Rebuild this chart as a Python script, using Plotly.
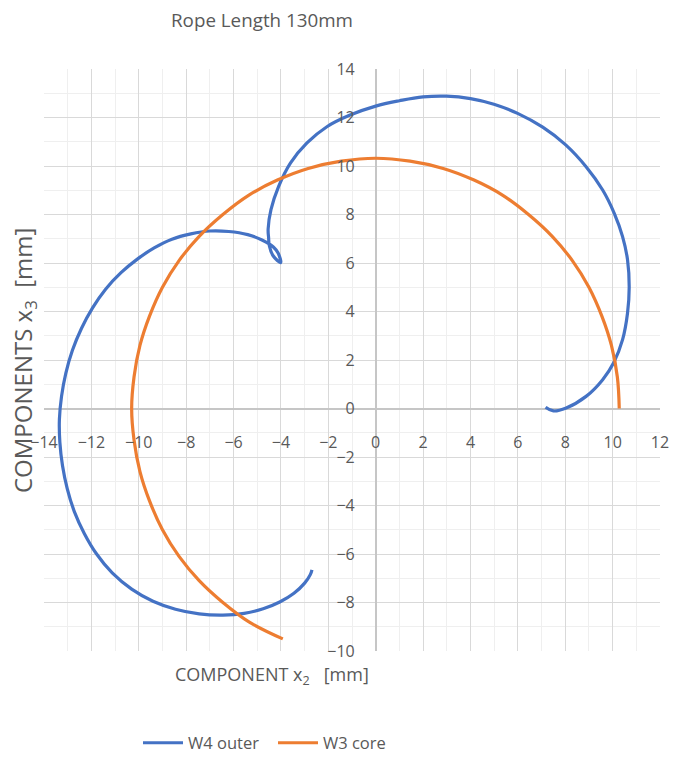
import plotly.graph_objects as go

# W4 outer wire: cross-section trace (x2, x3) in mm
w4_x2 = [7.17, 7.5, 8.04, 8.88, 9.58, 10.05, 10.42, 10.63, 10.7, 10.63, 10.42, 10.07,
         9.58, 8.88, 8.02, 7.05, 5.99, 4.99, 4.0, 2.99, 2.0, 1.0, 0.0, -1.08, -2.06,
         -2.9, -3.6, -4.1, -4.42, -4.54, -4.52, -4.49, -4.33, -4.01, -4.12, -4.32,
         -4.8, -5.4, -6.2, -7.0, -7.8, -8.6, -9.35, -10.06, -10.75, -11.4, -11.95,
         -12.42, -12.8, -13.08, -13.26, -13.35, -13.33, -13.22, -13.02, -12.72, -12.3,
         -11.78, -11.12, -10.3, -9.4, -8.45, -7.45, -6.45, -5.55, -4.75, -4.05, -3.45,
         -3.0, -2.76, -2.69]
w4_x3 = [0.05, -0.1, 0.02, 0.5, 1.19, 1.9, 2.84, 3.94, 5.0, 6.13, 7.09, 8.05,
         9.01, 9.97, 10.87, 11.6, 12.17, 12.55, 12.78, 12.88, 12.85, 12.69, 12.47, 12.1, 11.62,
         10.95, 10.12, 9.15, 8.2, 7.4, 7.05, 6.72, 6.3, 6.02, 6.41, 6.66,
         6.95, 7.17, 7.3, 7.32, 7.2, 6.98, 6.62, 6.16, 5.6, 4.92, 4.15,
         3.3, 2.4, 1.45, 0.5, -0.45, -1.4, -2.35, -3.3, -4.25, -5.15,
         -6.0, -6.78, -7.45, -7.95, -8.28, -8.47, -8.52, -8.45, -8.26, -7.98, -7.62,
         -7.2, -6.85, -6.65]

# W3 core wire
w3_x2 = [10.28, 10.2, 9.95, 9.55, 9.0, 8.3, 7.45, 6.45, 5.35, 4.15, 2.85, 1.45, 0.0,
         -1.45, -2.85, -4.15, -5.35, -6.45, -7.45, -8.3, -9.0, -9.55, -9.95, -10.2,
         -10.3, -10.2, -9.95, -9.55, -9.0, -8.3, -7.45, -6.45, -5.35, -3.92]
w3_x3 = [0.0, 1.3, 2.6, 3.8, 5.0, 6.1, 7.1, 8.0, 8.8, 9.42, 9.9, 10.2, 10.32,
         10.2, 9.9, 9.42, 8.8, 8.0, 7.1, 6.1, 5.0, 3.8, 2.6, 1.3,
         0.0, -1.3, -2.6, -3.8, -5.0, -6.1, -7.1, -8.0, -8.8, -9.5]

x_ticks = list(range(-14, 13, 2))
y_ticks = list(range(-10, 15, 2))

TXT = "#595959"
FONT = "Open Sans, sans-serif"

fig = go.Figure()
fig.add_trace(go.Scatter(x=w4_x2, y=w4_x3, mode="lines", name="W4 outer",
                         line=dict(color="#4472C4", width=3.2, shape="spline", smoothing=1.1)))
fig.add_trace(go.Scatter(x=w3_x2, y=w3_x3, mode="lines", name="W3 core",
                         line=dict(color="#ED7D31", width=3.2, shape="spline", smoothing=1.1)))

W, H = 675, 760
L, R, T, B = 44, 15, 69, 109
pw, ph = W - L - R, H - T - B


def px_x(p):
    return (p - L) / pw


def px_y(p):
    return (H - B - p) / ph


axis_common = dict(
    ticks="", showgrid=True, gridcolor="#d9d9d9", gridwidth=1.3,
    minor=dict(dtick=1, showgrid=True, gridcolor="#efefef", gridwidth=1.3),
    zeroline=True, zerolinecolor="#c6c6c6", zerolinewidth=1.5,
    showline=False, anchor="free", automargin=False, fixedrange=True,
    tickfont=dict(size=16, color=TXT, family=FONT),
)

fig.update_layout(
    width=W, height=H, autosize=False,
    margin=dict(l=L, r=R, t=T, b=B),
    paper_bgcolor="white", plot_bgcolor="white",
    font=dict(family=FONT, color=TXT, size=16),
    title=dict(text="Rope Length 130mm", xref="container", x=262 / W, xanchor="center",
               yref="container", y=1 - 20 / H, yanchor="middle",
               font=dict(size=18.8, color=TXT, family=FONT)),
    xaxis=dict(range=[-14, 12], tickvals=x_ticks, position=10 / 24,
               ticklabelstandoff=22, **axis_common),
    yaxis=dict(range=[-10, 14], tickvals=y_ticks, position=14 / 26,
               ticklabelstandoff=21, **axis_common),
    legend=dict(orientation="h", xref="container", x=138 / W, xanchor="left",
                yref="container", y=(H - 743) / H, yanchor="middle",
                itemwidth=40, entrywidth=80, entrywidthmode="pixels",
                font=dict(size=16.5, color=TXT, family=FONT)),
    showlegend=True,
)

fig.add_annotation(text="COMPONENT x<sub>2</sub>\u00a0\u00a0\u00a0[mm]", xref="paper", yref="paper",
                   x=px_x(272), y=px_y(675), xanchor="center", yanchor="middle",
                   showarrow=False, font=dict(size=18, color=TXT, family=FONT))
fig.add_annotation(text="COMPONENTS x<sub>3</sub>\u00a0\u00a0[mm]", xref="paper", yref="paper",
                   x=px_x(24), y=px_y(361), xanchor="center", yanchor="middle", textangle=-90,
                   showarrow=False, font=dict(size=24, color=TXT, family=FONT))

fig.write_html("out.html")
